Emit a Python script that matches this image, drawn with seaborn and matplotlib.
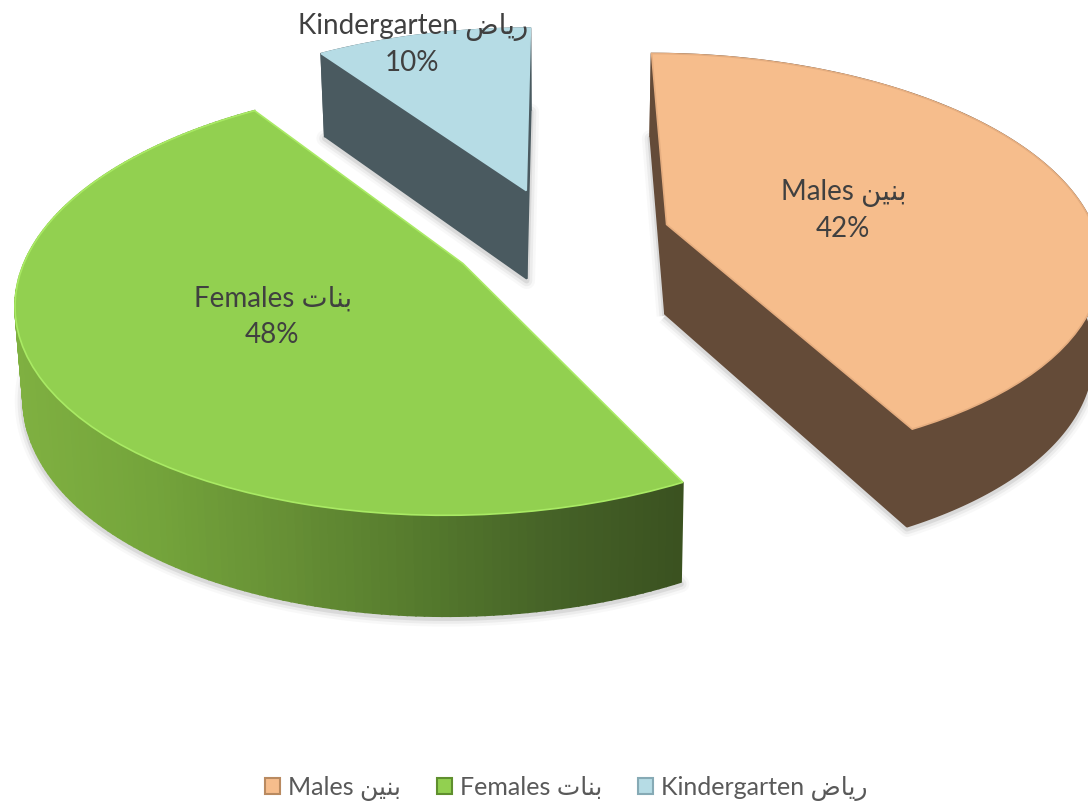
import numpy as np
import seaborn as sns
import matplotlib
matplotlib.use('Agg')
import matplotlib.pyplot as plt
from matplotlib.patches import Patch
from matplotlib.transforms import Transform

# arabic is typed as presentation forms in visual order, matplotlib does no shaping
labels = ['Males \ufee6\ufef4\ufee8\ufe91', 'Females \ufe95\ufe8e\ufee8\ufe91', 'Kindergarten \ufebd\ufe8e\ufef3\ufead']
shares = [42.4, 48.0, 9.6]
percent_text = ['42%', '48%', '10%']
explode = [0.265, 0.25, 0.25]

top_colors = ['#f6bd8c', '#92d050', '#b6dce5']
edge_colors = ['#e6ae80', '#a9ea64', '#b6dce5']
wall_colors = ['#644b38', None, '#4a5a60']
legend_edges = ['#b98a60', '#5f8f2e', '#86aab5']
green_ramp = ['#7fb041', '#74a43b', '#668f35', '#557a2d', '#456227', '#3a5120']

sns.set_theme(style='white')
plt.rcParams['font.family'] = ['Lato', 'DejaVu Sans']


class Tilt(Transform):
    # pie plane seen from above and in front, far side shrinks
    input_dims = 2
    output_dims = 2

    def __init__(self, base=False):
        super().__init__()
        self.base = base

    def transform_non_affine(self, values):
        xy = np.asarray(values, dtype=float)
        f = 1 / (1 + 0.16 * xy[:, 1])
        x = 557 + 430 * xy[:, 0] * f
        y = 238 - 202 * xy[:, 1] * f
        if self.base:
            x = 557 + (x - 557) * 0.985
            y = y + 40 + 50 * f
        return np.column_stack([x, y])


fig = plt.figure(figsize=(10.88, 8.03), dpi=100)
ax = fig.add_axes([0, 0, 1, 1])
wedges, _ = ax.pie(shares, explode=explode, colors=top_colors, startangle=90, counterclock=False,
                   wedgeprops={'linewidth': 1.2})
ax.set_aspect('auto')
ax.set_xlim(0, 1088)
ax.set_ylim(803, 0)
ax.axis('off')

tilt_top = Tilt()
tilt_base = Tilt(base=True)

# back slices first so the front ones sit over them
for i in [2, 1, 0]:
    w = wedges[i]
    theta = np.radians(np.linspace(w.theta1, w.theta2, 181))
    rim = np.column_stack([w.center[0] + w.r * np.cos(theta), w.center[1] + w.r * np.sin(theta)])
    apex = np.array([w.center])
    rim_top = tilt_top.transform(rim)
    rim_low = tilt_base.transform(rim)
    apex_top = tilt_top.transform(apex)
    apex_low = tilt_base.transform(apex)

    # soft shadow under the slice
    outline = np.vstack([apex_low, rim_low])
    for lw, a in [(12, 0.04), (8, 0.07), (4, 0.12)]:
        ax.fill(outline[:, 0], outline[:, 1] + 2, facecolor='none', edgecolor='#555555',
                linewidth=lw, alpha=a, joinstyle='round', zorder=1 + i)

    if wall_colors[i] is None:
        # shading runs left to right across the picture
        ramp = sns.blend_palette(green_ramp, n_colors=256)
        pos = (rim_top[:, 0] - rim_top[:, 0].min()) / (rim_top[:, 0].max() - rim_top[:, 0].min())
        for j in range(len(theta) - 1):
            quad = np.vstack([rim_top[j], rim_top[j + 1], rim_low[j + 1], rim_low[j]])
            ax.fill(quad[:, 0], quad[:, 1], color=ramp[int(pos[j] * 255)], linewidth=1.2, zorder=2 + i)
    else:
        c = wall_colors[i]
        ax.fill(*np.vstack([apex_top, rim_top[0], rim_low[0], apex_low]).T, color=c, linewidth=1.2, zorder=2 + i)
        ax.fill(*np.vstack([apex_top, rim_top[-1], rim_low[-1], apex_low]).T, color=c, linewidth=1.2, zorder=2 + i)
        ax.fill(*np.vstack([rim_top, rim_low[::-1]]).T, color=c, linewidth=1.2, zorder=2 + i)

    w.set_transform(tilt_top + ax.transData)
    w.set_edgecolor(edge_colors[i])
    w.set_zorder(3 + i)

# slice labels
text_color = '#404040'
ax.text(844, 193, labels[0], ha='center', va='center', fontsize=20, color=text_color, zorder=10)
ax.text(843, 229, percent_text[0], ha='center', va='center', fontsize=20, color=text_color, zorder=10)
ax.text(273, 299, labels[1], ha='center', va='center', fontsize=20, color=text_color, zorder=10)
ax.text(272, 335, percent_text[1], ha='center', va='center', fontsize=20, color=text_color, zorder=10)
ax.text(413, 27, labels[2], ha='center', va='center', fontsize=20, color=text_color, zorder=10)
ax.text(412, 63, percent_text[2], ha='center', va='center', fontsize=20, color=text_color, zorder=10)

handles = [Patch(facecolor=top_colors[i], edgecolor=legend_edges[i], linewidth=1.5) for i in range(3)]
ax.legend(handles, labels, loc='center', bbox_to_anchor=(566 / 1088, 1 - 789 / 803), ncol=3, frameon=False,
          fontsize=18, handlelength=0.6, handleheight=0.6, handletextpad=0.32, columnspacing=1.43,
          labelcolor='#595959')

fig.savefig('out.png', dpi=100)
